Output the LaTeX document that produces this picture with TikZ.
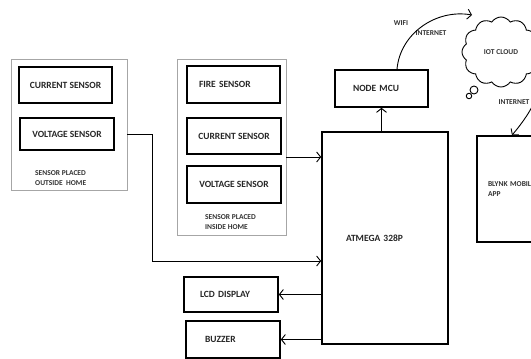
\documentclass[tikz,border=0pt]{standalone}
\usepackage{fontspec}
\setmainfont{Carlito}
\usetikzlibrary{shapes.symbols,arrows.meta}
\tikzset{
	blk/.style={draw, line width=1.6pt, inner sep=2pt, font=\bfseries\fontsize{9.5}{11}\selectfont, text=black!85},
	grp/.style={draw=black!35, line width=0.8pt},
	lbl/.style={font=\bfseries\fontsize{7.5}{10}\selectfont, text=black!80, align=left, inner sep=0pt},
	pad/.style 2 args={inner xsep=#1, text width=#2, align=left},
	link/.style={line width=0.9pt, -{Straight Barb[length=4pt,width=10pt]}}
}

\begin{document}
\begin{tikzpicture}[x=1pt,y=-1pt]
	\clip (0,0) rectangle (531,359);

	\node[grp, minimum width=116, minimum height=131] (outbox) at (69,124.5) {};
	\node[blk, minimum width=93, minimum height=36] (curout) at (65.5,85) {CURRENT SENSOR};
	\node[blk, minimum width=94, minimum height=32] (voltout) at (67,134) {VOLTAGE SENSOR};
	\node[lbl, anchor=west] (outtxt) at (35,178) {SENSOR PLACED\\OUTSIDE\ \ HOME};

	\node[grp, minimum width=109, minimum height=176] (inbox) at (231.5,147) {};
	\node[blk, pad={12}{69}, minimum width=93, minimum height=37] (fire) at (233.5,84.5) {FIRE SENSOR};
	\node[blk, minimum width=94, minimum height=36] (curin) at (234,136) {CURRENT SENSOR};
	\node[blk, minimum width=94, minimum height=37] (voltin) at (234,184.5) {VOLTAGE SENSOR};
	\node[lbl, anchor=west] (intxt) at (205,222.5) {SENSOR PLACED\\INSIDE HOME};

	\node[blk, pad={24}{78}, minimum width=126, minimum height=212] (atmega) at (385,238) {ATMEGA 328P};
	\node[blk, pad={18}{57}, minimum width=93, minimum height=37] (nodemcu) at (381.5,88.5) {NODE MCU};
	\node[blk, pad={16}{62}, minimum width=94, minimum height=35] (lcd) at (231,294.5) {LCD DISPLAY};
	\node[blk, pad={19}{56}, minimum width=94, minimum height=37] (buzzer) at (233,339.5) {BUZZER};
	\node[blk, lbl, pad={11}{68}, minimum width=90, minimum height=106] (blynk) at (522,189) {BLYNK MOBILE\\APP};

	\node[draw, cloud, cloud puffs=12, cloud puff arc=115, aspect=1.1, minimum width=78, minimum height=70, line width=0.9pt, lbl] (cloud) at (501,52) {IOT CLOUD};
	\node[draw, circle, line width=0.9pt, minimum size=8, inner sep=0pt] (bub1) at (474,90) {};
	\node[draw, circle, line width=0.9pt, minimum size=5.5, inner sep=0pt] (bub2) at (469,96) {};

	\node[lbl] (wifi) at (401,23) {WIFI};
	\node[lbl] (net1) at (431,33) {INTERNET};
	\node[lbl] (net2) at (514,102) {INTERNET};

	\coordinate (jn) at (152,261);
	\coordinate (inout) at ([yshift=-10]inbox.east);
	\coordinate (wifiend) at (472,15);

	\draw[link] (outbox.east |- voltout.east) -| (jn) -- (jn -| atmega.west);
	\draw[link] (inout) -- (inout -| atmega.west);
	\draw[link] (nodemcu.south |- atmega.north) -- (nodemcu.south);
	\draw[link] (lcd.east -| atmega.west) -- (lcd.east);
	\draw[link] (buzzer.east -| atmega.west) -- (buzzer.east);
	\draw[link] ([xshift=15.5]nodemcu.north) to[out=85, in=170] (wifiend);
	\draw[link] (cloud.east) to[out=-80, in=50] ([xshift=-10]blynk.north);
\end{tikzpicture}
\end{document}
